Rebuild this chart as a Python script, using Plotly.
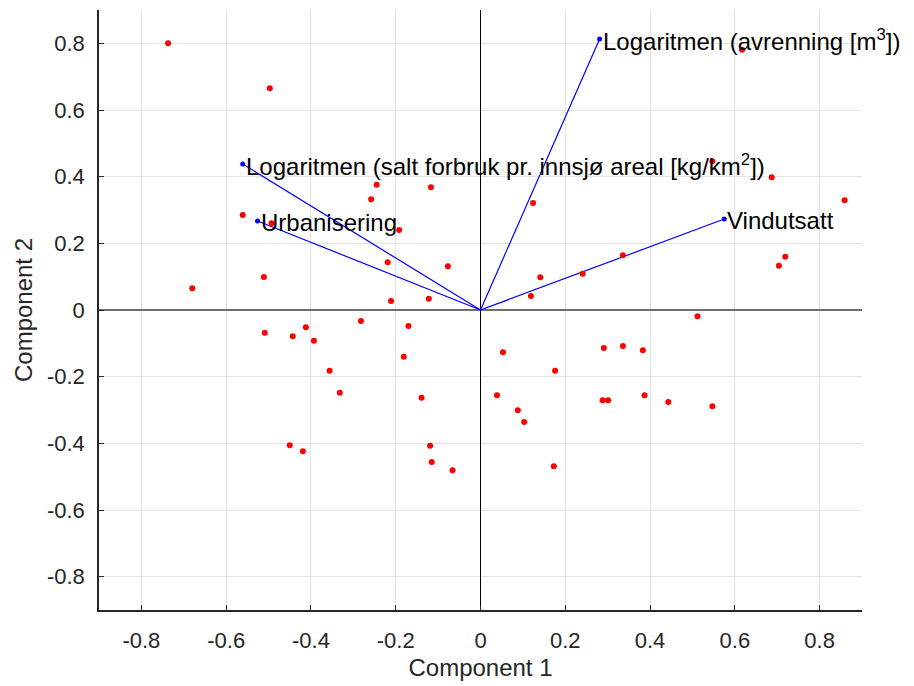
import plotly.graph_objects as go

# Scores (observations)
score_x = [-0.737, -0.497, -0.561, -0.493, -0.245, -0.258, -0.117, -0.192, -0.219, -0.077,
           -0.511, -0.680, -0.211, -0.122,
           0.617, 0.547, 0.687, 0.859, 0.124, 0.336, 0.719, 0.704, 0.141, 0.241, 0.119,
           -0.282, -0.170, -0.509, -0.412, -0.443, -0.393, -0.181, -0.356, -0.332, -0.139,
           -0.450, -0.419, -0.119, -0.115, -0.066,
           0.512, 0.053, 0.291, 0.336, 0.383, 0.176, 0.039, 0.088, 0.103, 0.288, 0.301,
           0.387, 0.443, 0.547, 0.173]
score_y = [0.800, 0.665, 0.285, 0.260, 0.376, 0.332, 0.368, 0.240, 0.143, 0.131,
           0.099, 0.065, 0.027, 0.034,
           0.781, 0.446, 0.398, 0.329, 0.321, 0.164, 0.160, 0.133, 0.098, 0.109, 0.042,
           -0.033, -0.048, -0.068, -0.052, -0.079, -0.092, -0.140, -0.182, -0.248, -0.263,
           -0.406, -0.424, -0.407, -0.456, -0.481,
           -0.019, -0.127, -0.114, -0.108, -0.121, -0.182, -0.256, -0.301, -0.336, -0.271, -0.271,
           -0.256, -0.276, -0.289, -0.469]

# Loadings (variables)
var_names = ["Logaritmen (avrenning [m<sup>3</sup>])",
             "Logaritmen (salt forbruk pr. innsjø areal [kg/km<sup>2</sup>])",
             "Urbanisering",
             "Vindutsatt"]
load_x = [0.281, -0.561, -0.526, 0.575]
load_y = [0.813, 0.438, 0.267, 0.273]

ticks = [-0.8, -0.6, -0.4, -0.2, 0, 0.2, 0.4, 0.6, 0.8]
tick_text = ["-0.8", "-0.6", "-0.4", "-0.2", "0", "0.2", "0.4", "0.6", "0.8"]

FONT = "Liberation Sans, Arial, Helvetica"

fig = go.Figure()

# zero lines
fig.add_trace(go.Scatter(x=[-0.9, 0.9], y=[0, 0], mode="lines",
                         line=dict(color="#6e6e6e", width=2), hoverinfo="skip", showlegend=False))
fig.add_trace(go.Scatter(x=[0, 0], y=[-0.9, 0.9], mode="lines",
                         line=dict(color="black", width=1), hoverinfo="skip", showlegend=False))

# vectors
for lx, ly in zip(load_x, load_y):
    fig.add_trace(go.Scatter(x=[0, lx], y=[0, ly], mode="lines",
                             line=dict(color="#0000ff", width=1.2), showlegend=False))
fig.add_trace(go.Scatter(x=load_x, y=load_y, mode="markers",
                         marker=dict(color="#0000ff", size=5), showlegend=False))

# scores
fig.add_trace(go.Scatter(x=score_x, y=score_y, mode="markers",
                         marker=dict(color="#ff0000", size=6), showlegend=False))

for name, lx, ly in zip(var_names, load_x, load_y):
    fig.add_annotation(x=lx, y=ly, text=name, showarrow=False, xanchor="left",
                       yanchor="middle", xshift=1, yshift=-1,
                       font=dict(family=FONT, size=24, color="#000000"))

axis_common = dict(
    range=[-0.9, 0.9], tickvals=ticks, ticktext=tick_text,
    showgrid=True, gridcolor="#e3e3e3", gridwidth=1,
    zeroline=False, showline=True, linecolor="#262626", linewidth=1.5,
    ticks="inside", ticklen=5, tickcolor="#262626", mirror=False,
    tickfont=dict(family=FONT, size=22, color="#262626"),
)

fig.update_layout(
    width=914, height=686,
    margin=dict(l=99, r=52, t=10, b=76),
    paper_bgcolor="white", plot_bgcolor="white",
    xaxis=dict(**axis_common, ticklabelstandoff=10,
               title=dict(text="Component 1", standoff=7,
                          font=dict(family=FONT, size=24, color="#262626"))),
    yaxis=dict(**axis_common, ticklabelstandoff=8,
               title=dict(text="Component 2", standoff=8,
                          font=dict(family=FONT, size=24, color="#262626"))),
    showlegend=False,
)

fig.write_html("out.html")
